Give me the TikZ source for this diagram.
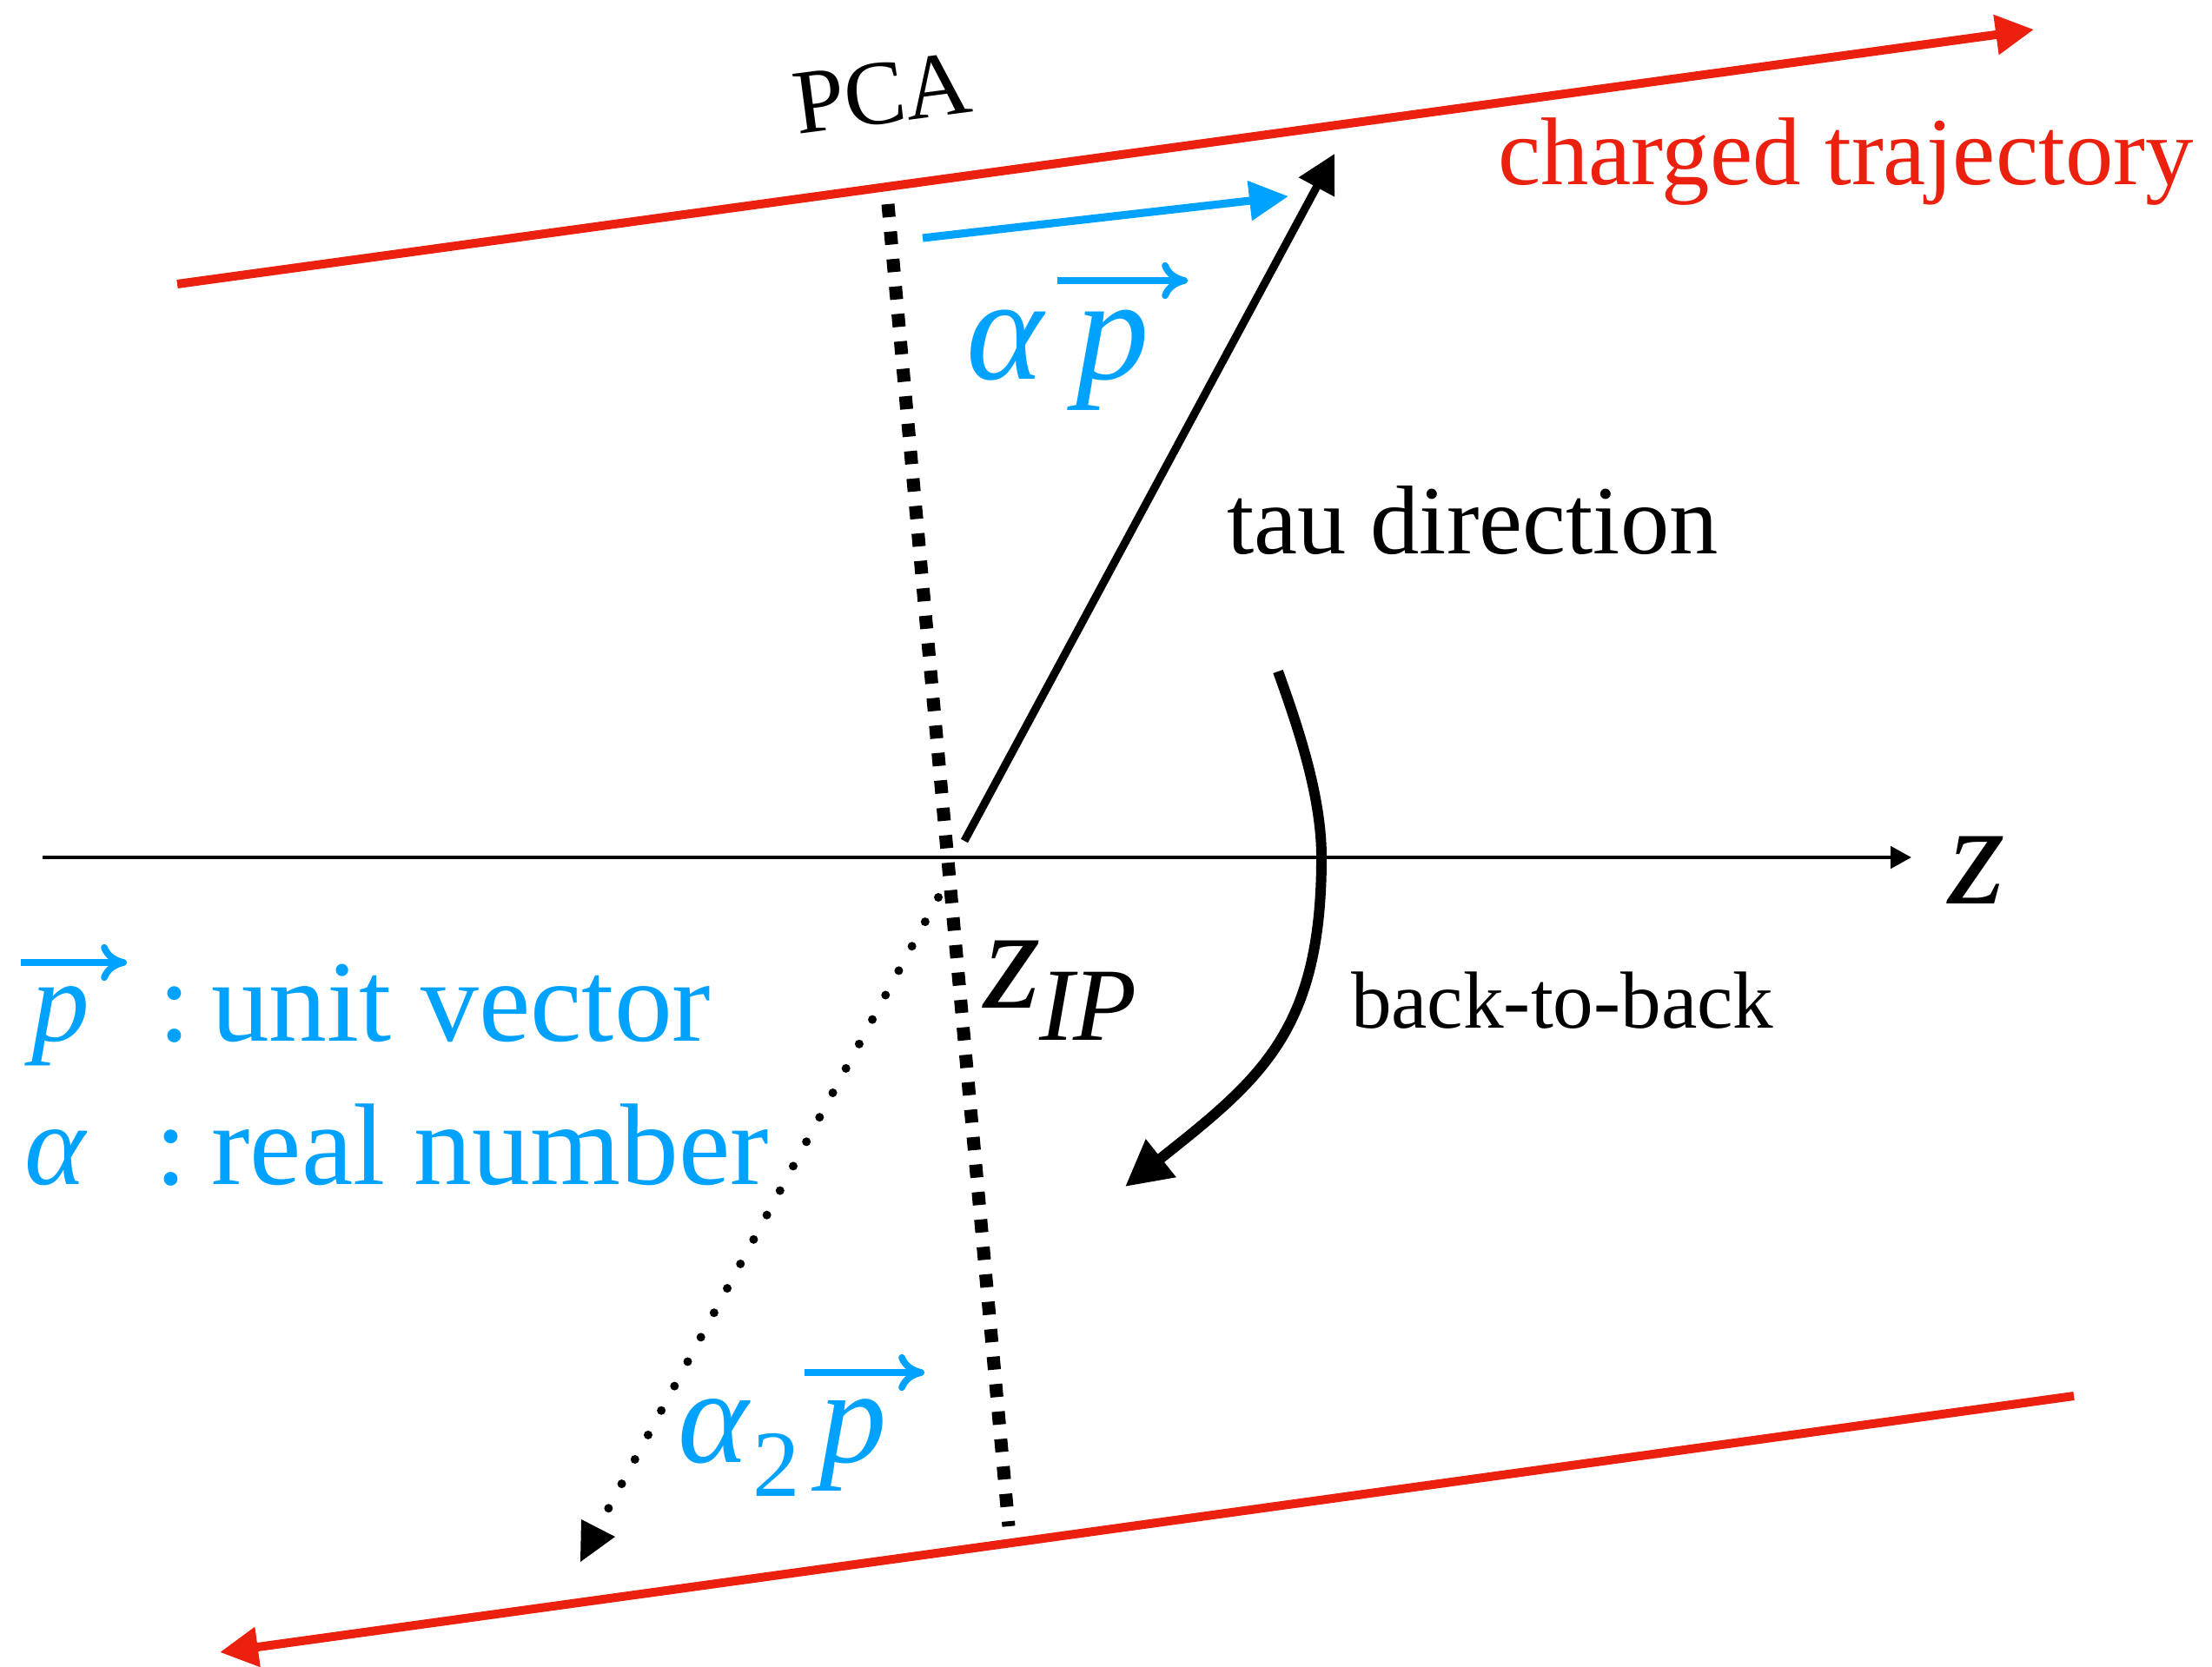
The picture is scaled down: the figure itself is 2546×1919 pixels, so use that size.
\documentclass[tikz,border=0pt]{standalone}
\usepackage{fontspec}
\setmainfont{Liberation Serif}
\usetikzlibrary{arrows.meta}
\definecolor{trkred}{RGB}{236,32,14}
\definecolor{vecblue}{RGB}{0,162,255}
\newcommand{\fs}[1]{\fontsize{#1}{#1}\selectfont}
\begin{document}
\begin{tikzpicture}[x=0.01cm,y=-0.01cm,
  lbl/.style={inner sep=0pt, outer sep=0pt, anchor=base west},
  vlbl/.style={lbl, text=vecblue},
  vecover/.style={vecblue, line width=2.2pt, -{To[length=8.5pt,width=12pt]}},
  trk/.style={trkred, line width=2.85pt, -{Triangle[length=12.5pt,width=12.5pt]}},
  zaxis/.style={black, line width=1.4pt, -{Triangle[length=6.8pt,width=7.1pt]}},
  tauarrow/.style={black, line width=2.6pt, -{Triangle[length=12.4pt,width=12.6pt]}},
  bluearrow/.style={vecblue, line width=2.6pt, -{Triangle[length=12.8pt,width=12.5pt]}},
  curvarrow/.style={black, line width=3.4pt, -{Triangle[length=15pt,width=15pt]}},
  pcaline/.style={black, line width=4.27pt, dash pattern=on 4.27pt off 4.75pt},
  backline/.style={black, line width=2.85pt, line cap=round, dash pattern=on 0pt off 9.09pt}
]
\useasboundingbox (0,0) rectangle (2546,1919);

% coordinates
\coordinate (t1s) at (204,327);   \coordinate (t1e) at (2341,34);
\coordinate (t2s) at (2387,1607); \coordinate (t2e) at (253,1902);
\coordinate (zs) at (49,987);     \coordinate (ze) at (2200,987);
\coordinate (ip) at (1110,968);   \coordinate (taue) at (1536,177);
\coordinate (bs) at (1062,274);   \coordinate (be) at (1483,226);
\coordinate (ds) at (1022,235);   \coordinate (de) at (1161,1757);
\coordinate (bbs) at (1080,1033); \coordinate (bbe) at (700,1737);
\coordinate (cs) at (1471,773);   \coordinate (cm) at (1521,987);
\coordinate (ce) at (1295,1366);
\coordinate (v1s) at (1217,323);  \coordinate (v1e) at (1367,323);
\coordinate (v2s) at (926,1580);  \coordinate (v2e) at (1064,1580);
\coordinate (v3s) at (24,1108);   \coordinate (v3e) at (146,1108);

% trajectories
\draw[trk] (t1s) -- (t1e);
\draw[trk] (t2s) -- (t2e);
% z axis
\draw[zaxis] (zs) -- (ze);
% PCA line
\draw[pcaline] (ds) -- (de);
% back-to-back dotted direction
\draw[backline] (bbs) -- (bbe);
\fill[black] (669,1749) -- (708,1769) -- (668,1798) -- cycle;
% tau direction
\draw[tauarrow] (ip) -- (taue);
% alpha p vector
\draw[bluearrow] (bs) -- (be);
% curved arrow
\draw[curvarrow] (cs) .. controls (1497,845) and (1521,920) .. (cm)
                      .. controls (1521,1187) and (1451,1242) .. (ce);

% labels
\node[lbl, rotate=7.5] (pca) at (918,155) {\fs{30}PCA};
\node[lbl, text=trkred] (traj) at (1724,213) {\fs{31.5}charged trajectory};
\node[lbl] (tau) at (1412,637) {\fs{32}tau direction};
\node[lbl] (b2b) at (1555,1183) {\fs{26.5}back-to-back};
\node[lbl] (zlab) at (2242,1040) {\fs{48}\itshape z};
\node[lbl] (zip) at (1132,1160) {\fs{48}\itshape z};
\node[lbl] (ipsub) at (1196,1197) {\fs{34}\itshape IP};

% alpha p (top)
\node[vlbl] (alpha1) at (1112,437) {\fs{48}\itshape α};
\node[vlbl] (p1) at (1238,437) {\fs{48}\itshape p};
\draw[vecover] (v1s) -- (v1e);

% alpha_2 p (bottom)
\node[vlbl] (alpha2) at (780,1683) {\fs{44}\itshape α};
\node[vlbl] (two) at (866,1722) {\fs{31}2};
\node[vlbl] (p2) at (943,1683) {\fs{44}\itshape p};
\draw[vecover] (v2s) -- (v2e);

% legend
\draw[vecover] (v3s) -- (v3e);
\node[vlbl] (pleg) at (36,1198) {\fs{38}\itshape p};
\node[vlbl] (unit) at (182,1198) {\fs{38}:\hspace{0.18em}unit vector};
\node[vlbl] (aleg) at (28,1363) {\fs{38}\itshape α};
\node[vlbl] (real) at (178,1363) {\fs{38}:\hspace{0.21em}real number};
\end{tikzpicture}
\end{document}
